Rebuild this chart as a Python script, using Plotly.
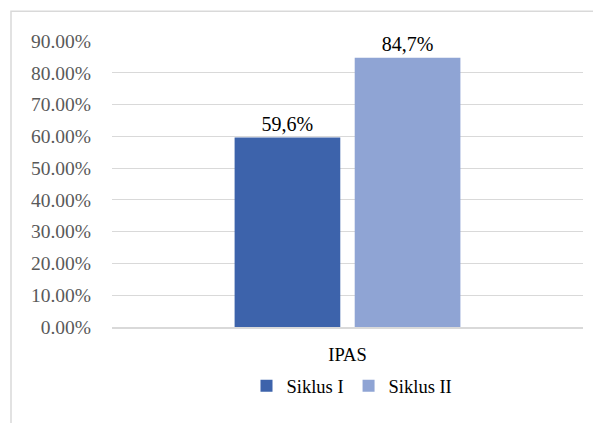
import plotly.graph_objects as go

categories = ["IPAS"]
series_names = ["Siklus I", "Siklus II"]
siklus_1 = [0.596]
siklus_2 = [0.847]
labels_1 = ["59,6%"]
labels_2 = ["84,7%"]
colors = ["#3D63AB", "#8FA4D4"]

OFF = 8  # default page body margin
W, H = 601 - OFF, 423 - OFF
L, R, T, B = 112 - OFF, 583 - OFF, 40.7 - OFF, 326.7 - OFF
pw, ph = R - L, B - T

def px_x(p):
    return (p - OFF - L) / pw

def px_y(p):
    return (B - (p - OFF)) / ph

font_family = "'Liberation Serif', 'Times New Roman', serif"

fig = go.Figure()
for name, vals, labs, col in [
    (series_names[0], siklus_1, labels_1, colors[0]),
    (series_names[1], siklus_2, labels_2, colors[1]),
]:
    fig.add_trace(go.Bar(
        x=categories, y=vals, name=name, marker_color=col,
        marker_line_width=0,
        text=labs, textposition="outside", cliponaxis=False,
        textfont=dict(family=font_family, size=20, color="#000000"),
    ))

fig.update_layout(
    width=W, height=H,
    margin=dict(l=L, r=W - R, t=T, b=H - B, pad=0, autoexpand=False),
    paper_bgcolor="white", plot_bgcolor="white",
    barmode="group", bargap=0.49, bargroupgap=0.12,
    showlegend=True,
    legend=dict(orientation="h", x=px_x(352), xanchor="center",
                y=px_y(386), yanchor="middle",
                font=dict(family=font_family, size=18.5, color="#000000"),
                itemwidth=30, tracegroupgap=0, traceorder="normal"),
    font=dict(family=font_family),
    shapes=[dict(type="rect", xref="paper", yref="paper",
                 x0=px_x(11), x1=px_x(700), y0=px_y(600), y1=px_y(11),
                 line=dict(color="#D9D9D9", width=1.5), layer="below")],
)
fig.update_yaxes(range=[0, 0.9], dtick=0.1, tickformat=".2%",
                 showgrid=True, gridcolor="#D9D9D9", gridwidth=1,
                 zeroline=False, showline=False, automargin=False,
                 ticklabelstandoff=20,
                 tickfont=dict(family=font_family, size=19.5, color="#595959"))
fig.update_xaxes(showline=True, linecolor="#D9D9D9", linewidth=2,
                 showgrid=False, ticklabelstandoff=10, automargin=False,
                 tickfont=dict(family=font_family, size=18.5, color="#000000"))

fig.write_html("out.html")
